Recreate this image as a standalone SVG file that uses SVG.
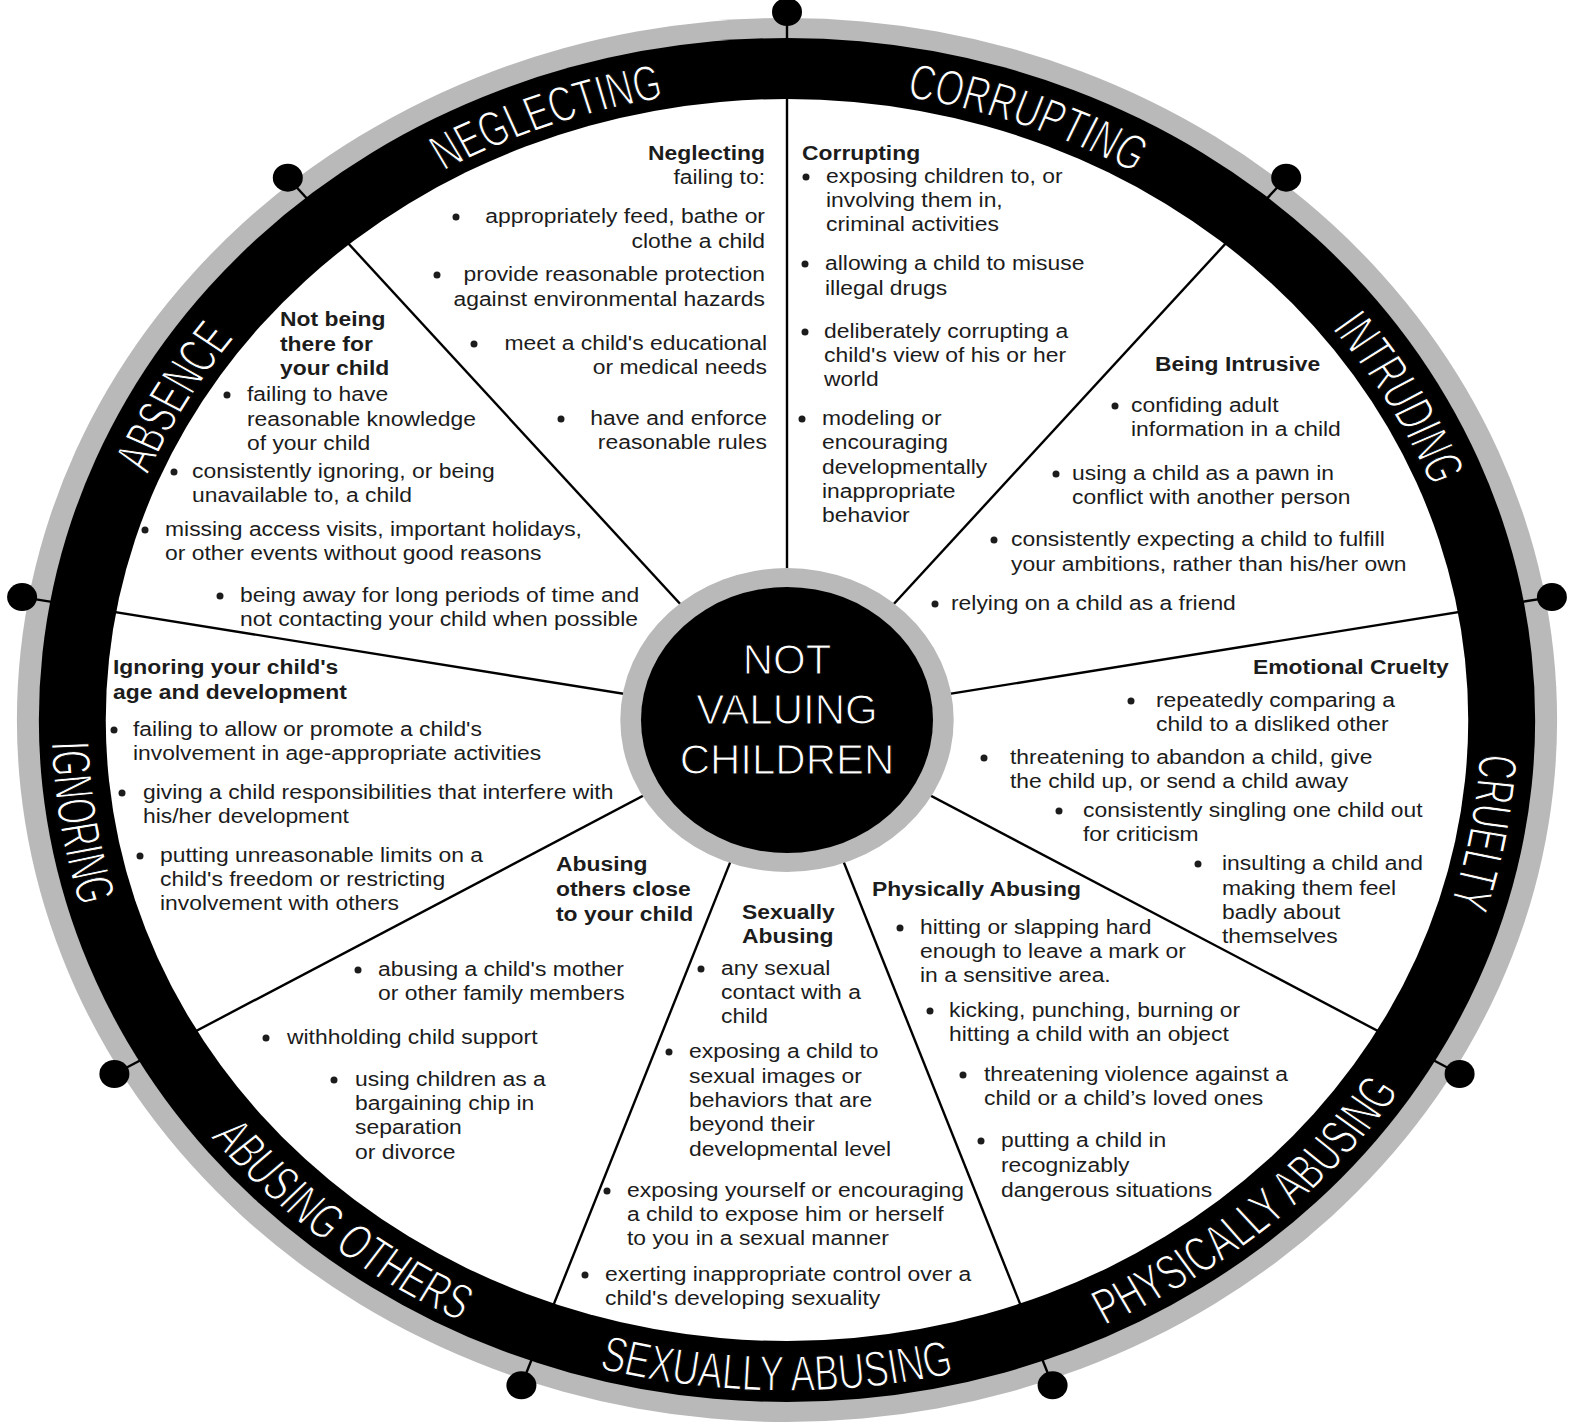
<svg xmlns="http://www.w3.org/2000/svg" xmlns:xlink="http://www.w3.org/1999/xlink" width="1570" height="1422" viewBox="0 0 1570 1422">
  <style>
    .t { font-family: "Liberation Sans", Arial, sans-serif; font-size: 20.8px; fill: #1c1c1c; }
    .b { font-weight: bold; }
    .end { text-anchor: end; }
    .bul { fill: #1c1c1c; }
    .band { font-family: "Liberation Sans", Arial, sans-serif; font-size: 50px; fill: #ffffff; stroke: #000; stroke-width: 1.3; }
    .hub { font-family: "Liberation Sans", Arial, sans-serif; font-size: 42px; fill: #ffffff; stroke: #000; stroke-width: 1.1; text-anchor: middle; }
    .spoke { stroke: #000; stroke-width: 2.4; }
    .knob { fill: #000; }
  </style>
  <defs>
    <!-- clockwise circle for labels read from the outside (local wheel units) -->
    <path id="outerArc" d="M -632 0 A 632 632 0 1 1 632 0 A 632 632 0 1 1 -632 0"/>
    <!-- counter-clockwise circle for labels read from the inside -->
    <path id="innerArc" d="M 0 -671 A 671 671 0 1 0 0 671 A 671 671 0 1 0 0 -671"/>
  </defs>

  <rect width="1570" height="1422" fill="#ffffff"/>

  <!-- rim: grey edge, black band, white face (wheel drawn as a circle, stretched horizontally) -->
  <g id="rim" transform="translate(787,720) scale(1.097,1)">
    <circle r="702" fill="#b9b9b9"/>
    <circle r="682" fill="#000"/>
    <circle r="621" fill="#ffffff"/>
  </g>

  <!-- spokes and rim knobs -->
  <g id="connectors">
    <line class="spoke" x1="787" y1="12" x2="787" y2="720"/>
    <line class="spoke" x1="287.8" y1="177.7" x2="787" y2="720"/>
    <line class="spoke" x1="22.1" y1="597.1" x2="787" y2="720"/>
    <line class="spoke" x1="114.4" y1="1074" x2="787" y2="720"/>
    <line class="spoke" x1="521.4" y1="1385.3" x2="787" y2="720"/>
    <line class="spoke" x1="1052.6" y1="1385.3" x2="787" y2="720"/>
    <line class="spoke" x1="1459.6" y1="1074" x2="787" y2="720"/>
    <line class="spoke" x1="1551.9" y1="597.1" x2="787" y2="720"/>
    <line class="spoke" x1="1286.2" y1="177.7" x2="787" y2="720"/>
    <ellipse class="knob" cx="787" cy="12" rx="15" ry="14"/>
    <ellipse class="knob" cx="287.8" cy="177.7" rx="15" ry="14"/>
    <ellipse class="knob" cx="22.1" cy="597.1" rx="15" ry="14"/>
    <ellipse class="knob" cx="114.4" cy="1074" rx="15" ry="14"/>
    <ellipse class="knob" cx="521.4" cy="1385.3" rx="15" ry="14"/>
    <ellipse class="knob" cx="1052.6" cy="1385.3" rx="15" ry="14"/>
    <ellipse class="knob" cx="1459.6" cy="1074" rx="15" ry="14"/>
    <ellipse class="knob" cx="1551.9" cy="597.1" rx="15" ry="14"/>
    <ellipse class="knob" cx="1286.2" cy="177.7" rx="15" ry="14"/>
  </g>

  <!-- rim labels -->
  <g id="rim-labels" transform="translate(787,720) scale(1.097,1)">
    <text class="band"><textPath xlink:href="#outerArc" href="#outerArc" startOffset="252" textLength="158" lengthAdjust="spacingAndGlyphs">ABSENCE</textPath></text>
    <text class="band"><textPath xlink:href="#outerArc" href="#outerArc" startOffset="665" textLength="215" lengthAdjust="spacingAndGlyphs">NEGLECTING</textPath></text>
    <text class="band"><textPath xlink:href="#outerArc" href="#outerArc" startOffset="1102" textLength="222" lengthAdjust="spacingAndGlyphs">CORRUPTING</textPath></text>
    <text class="band"><textPath xlink:href="#outerArc" href="#outerArc" startOffset="1563" textLength="183" lengthAdjust="spacingAndGlyphs">INTRUDING</textPath></text>
    <text class="band"><textPath xlink:href="#outerArc" href="#outerArc" startOffset="2019" textLength="154" lengthAdjust="spacingAndGlyphs">CRUELTY</textPath></text>
    <text class="band"><textPath xlink:href="#innerArc" href="#innerArc" startOffset="1076" textLength="167" lengthAdjust="spacingAndGlyphs">IGNORING</textPath></text>
    <text class="band"><textPath xlink:href="#innerArc" href="#innerArc" startOffset="1504" textLength="295" lengthAdjust="spacingAndGlyphs">ABUSING OTHERS</textPath></text>
    <text class="band"><textPath xlink:href="#innerArc" href="#innerArc" startOffset="1934" textLength="328" lengthAdjust="spacingAndGlyphs">SEXUALLY ABUSING</textPath></text>
    <text class="band"><textPath xlink:href="#innerArc" href="#innerArc" startOffset="2407" textLength="361" lengthAdjust="spacingAndGlyphs">PHYSICALLY ABUSING</textPath></text>
  </g>

  <!-- hub -->
  <g id="hub">
    <ellipse cx="787" cy="720" rx="166.7" ry="152" fill="#b9b9b9"/>
    <ellipse cx="787" cy="720" rx="146" ry="133" fill="#000"/>
    <text class="hub" x="787" y="674">NOT</text>
    <text class="hub" x="787" y="724">VALUING</text>
    <text class="hub" x="787" y="774">CHILDREN</text>
  </g>

  <!-- sector texts are set in a horizontally widened frame: x values are divided by 1.1 -->
  <g id="neglecting">
    <g transform="scale(1.1,1)">
      <text class="t b end" x="695.45" y="160">Neglecting</text>
      <text class="t end" x="695.45" y="184">failing to:</text>
      <text class="t end" x="695.45" y="223">appropriately feed, bathe or</text>
      <text class="t end" x="695.45" y="248">clothe a child</text>
      <text class="t end" x="695.45" y="281">provide reasonable protection</text>
      <text class="t end" x="695.45" y="306">against environmental hazards</text>
      <text class="t end" x="697.27" y="350">meet a child's educational</text>
      <text class="t end" x="697.27" y="374">or medical needs</text>
      <text class="t end" x="697.27" y="425">have and enforce</text>
      <text class="t end" x="697.27" y="449">reasonable rules</text>
    </g>
    <circle class="bul" cx="456" cy="217" r="3.5"/>
    <circle class="bul" cx="437" cy="275" r="3.5"/>
    <circle class="bul" cx="474" cy="344" r="3.5"/>
    <circle class="bul" cx="561" cy="419" r="3.5"/>
  </g>

  <g id="corrupting">
    <text class="t" transform="scale(1.1,1)"><tspan class="b" x="729.09" y="160">Corrupting</tspan><tspan
      x="750.91" y="183">exposing children to, or</tspan><tspan
      x="750.91" y="207">involving them in,</tspan><tspan
      x="750.91" y="231">criminal activities</tspan><tspan
      x="750" y="270">allowing a child to misuse</tspan><tspan
      x="750" y="295">illegal drugs</tspan><tspan
      x="749.09" y="338">deliberately corrupting a</tspan><tspan
      x="749.09" y="362">child's view of his or her</tspan><tspan
      x="749.09" y="386">world</tspan><tspan
      x="747.27" y="425">modeling or</tspan><tspan
      x="747.27" y="449">encouraging</tspan><tspan
      x="747.27" y="474">developmentally</tspan><tspan
      x="747.27" y="498">inappropriate</tspan><tspan
      x="747.27" y="522">behavior</tspan></text>
    <circle class="bul" cx="806" cy="177" r="3.5"/>
    <circle class="bul" cx="805" cy="264" r="3.5"/>
    <circle class="bul" cx="805" cy="332" r="3.5"/>
    <circle class="bul" cx="802" cy="419" r="3.5"/>
  </g>

  <g id="intruding">
    <text class="t" transform="scale(1.1,1)"><tspan class="b" x="1050" y="371">Being Intrusive</tspan><tspan
      x="1028.18" y="412">confiding adult</tspan><tspan
      x="1028.18" y="436">information in a child</tspan><tspan
      x="974.55" y="480">using a child as a pawn in</tspan><tspan
      x="974.55" y="504">conflict with another person</tspan><tspan
      x="919.09" y="546">consistently expecting a child to fulfill</tspan><tspan
      x="919.09" y="571">your ambitions, rather than his/her own</tspan><tspan
      x="864.55" y="610">relying on a child as a friend</tspan></text>
    <circle class="bul" cx="1115" cy="406" r="3.5"/>
    <circle class="bul" cx="1056" cy="474" r="3.5"/>
    <circle class="bul" cx="994" cy="540" r="3.5"/>
    <circle class="bul" cx="935" cy="604" r="3.5"/>
  </g>

  <g id="cruelty">
    <text class="t" transform="scale(1.1,1)"><tspan class="b" x="1139.09" y="674">Emotional Cruelty</tspan><tspan
      x="1050.91" y="707">repeatedly comparing a</tspan><tspan
      x="1050.91" y="731">child to a disliked other</tspan><tspan
      x="918.18" y="764">threatening to abandon a child, give</tspan><tspan
      x="918.18" y="788">the child up, or send a child away</tspan><tspan
      x="984.55" y="817">consistently singling one child out</tspan><tspan
      x="984.55" y="841">for criticism</tspan><tspan
      x="1110.91" y="870">insulting a child and</tspan><tspan
      x="1110.91" y="895">making them feel</tspan><tspan
      x="1110.91" y="919">badly about</tspan><tspan
      x="1110.91" y="943">themselves</tspan></text>
    <circle class="bul" cx="1131" cy="701" r="3.5"/>
    <circle class="bul" cx="984" cy="758" r="3.5"/>
    <circle class="bul" cx="1059" cy="811" r="3.5"/>
    <circle class="bul" cx="1198" cy="864" r="3.5"/>
  </g>

  <g id="physically-abusing">
    <text class="t" transform="scale(1.1,1)"><tspan class="b" x="792.73" y="896">Physically Abusing</tspan><tspan
      x="836.36" y="934">hitting or slapping hard</tspan><tspan
      x="836.36" y="958">enough to leave a mark or</tspan><tspan
      x="836.36" y="982">in a sensitive area.</tspan><tspan
      x="862.73" y="1017">kicking, punching, burning or</tspan><tspan
      x="862.73" y="1041">hitting a child with an object</tspan><tspan
      x="894.55" y="1081">threatening violence against a</tspan><tspan
      x="894.55" y="1105">child or a child’s loved ones</tspan><tspan
      x="910" y="1147">putting a child in</tspan><tspan
      x="910" y="1172">recognizably</tspan><tspan
      x="910" y="1197">dangerous situations</tspan></text>
    <circle class="bul" cx="900" cy="928" r="3.5"/>
    <circle class="bul" cx="930" cy="1011" r="3.5"/>
    <circle class="bul" cx="963" cy="1075" r="3.5"/>
    <circle class="bul" cx="981" cy="1141" r="3.5"/>
  </g>

  <g id="sexually-abusing">
    <text class="t" transform="scale(1.1,1)"><tspan class="b" x="674.55" y="919">Sexually</tspan><tspan
      class="b" x="674.55" y="943">Abusing</tspan><tspan
      x="655.45" y="975">any sexual</tspan><tspan
      x="655.45" y="999">contact with a</tspan><tspan
      x="655.45" y="1023">child</tspan><tspan
      x="626.36" y="1058">exposing a child to</tspan><tspan
      x="626.36" y="1083">sexual images or</tspan><tspan
      x="626.36" y="1107">behaviors that are</tspan><tspan
      x="626.36" y="1131">beyond their</tspan><tspan
      x="626.36" y="1156">developmental level</tspan><tspan
      x="570" y="1197">exposing yourself or encouraging</tspan><tspan
      x="570" y="1221">a child to expose him or herself</tspan><tspan
      x="570" y="1245">to you in a sexual manner</tspan><tspan
      x="550" y="1281">exerting inappropriate control over a</tspan><tspan
      x="550" y="1305">child's developing sexuality</tspan></text>
    <circle class="bul" cx="701" cy="969" r="3.5"/>
    <circle class="bul" cx="669" cy="1052" r="3.5"/>
    <circle class="bul" cx="607" cy="1191" r="3.5"/>
    <circle class="bul" cx="585" cy="1275" r="3.5"/>
  </g>

  <g id="abusing-others">
    <text class="t" transform="scale(1.1,1)"><tspan class="b" x="505.45" y="871">Abusing</tspan><tspan
      class="b" x="505.45" y="896">others close</tspan><tspan
      class="b" x="505.45" y="921">to your child</tspan><tspan
      x="343.64" y="976">abusing a child's mother</tspan><tspan
      x="343.64" y="1000">or other family members</tspan><tspan
      x="260.91" y="1044">withholding child support</tspan><tspan
      x="322.73" y="1086">using children as a</tspan><tspan
      x="322.73" y="1110">bargaining chip in</tspan><tspan
      x="322.73" y="1134">separation</tspan><tspan
      x="322.73" y="1159">or divorce</tspan></text>
    <circle class="bul" cx="358" cy="970" r="3.5"/>
    <circle class="bul" cx="266" cy="1038" r="3.5"/>
    <circle class="bul" cx="334" cy="1080" r="3.5"/>
  </g>

  <g id="ignoring">
    <text class="t" transform="scale(1.1,1)"><tspan class="b" x="102.73" y="674">Ignoring your child's</tspan><tspan
      class="b" x="102.73" y="699">age and development</tspan><tspan
      x="120.91" y="736">failing to allow or promote a child's</tspan><tspan
      x="120.91" y="760">involvement in age-appropriate activities</tspan><tspan
      x="130" y="799">giving a child responsibilities that interfere with</tspan><tspan
      x="130" y="823">his/her development</tspan><tspan
      x="145.45" y="862">putting unreasonable limits on a</tspan><tspan
      x="145.45" y="886">child's freedom or restricting</tspan><tspan
      x="145.45" y="910">involvement with others</tspan></text>
    <circle class="bul" cx="114" cy="730" r="3.5"/>
    <circle class="bul" cx="122" cy="793" r="3.5"/>
    <circle class="bul" cx="140" cy="856" r="3.5"/>
  </g>

  <g id="absence">
    <text class="t" transform="scale(1.1,1)"><tspan class="b" x="254.55" y="326">Not being</tspan><tspan
      class="b" x="254.55" y="351">there for</tspan><tspan
      class="b" x="254.55" y="375">your child</tspan><tspan
      x="224.55" y="401">failing to have</tspan><tspan
      x="224.55" y="426">reasonable knowledge</tspan><tspan
      x="224.55" y="450">of your child</tspan><tspan
      x="174.55" y="478">consistently ignoring, or being</tspan><tspan
      x="174.55" y="502">unavailable to, a child</tspan><tspan
      x="150" y="536">missing access visits, important holidays,</tspan><tspan
      x="150" y="560">or other events without good reasons</tspan><tspan
      x="218.18" y="602">being away for long periods of time and</tspan><tspan
      x="218.18" y="626">not contacting your child when possible</tspan></text>
    <circle class="bul" cx="227" cy="395" r="3.5"/>
    <circle class="bul" cx="174" cy="472" r="3.5"/>
    <circle class="bul" cx="145" cy="530" r="3.5"/>
    <circle class="bul" cx="220" cy="596" r="3.5"/>
  </g>
</svg>
